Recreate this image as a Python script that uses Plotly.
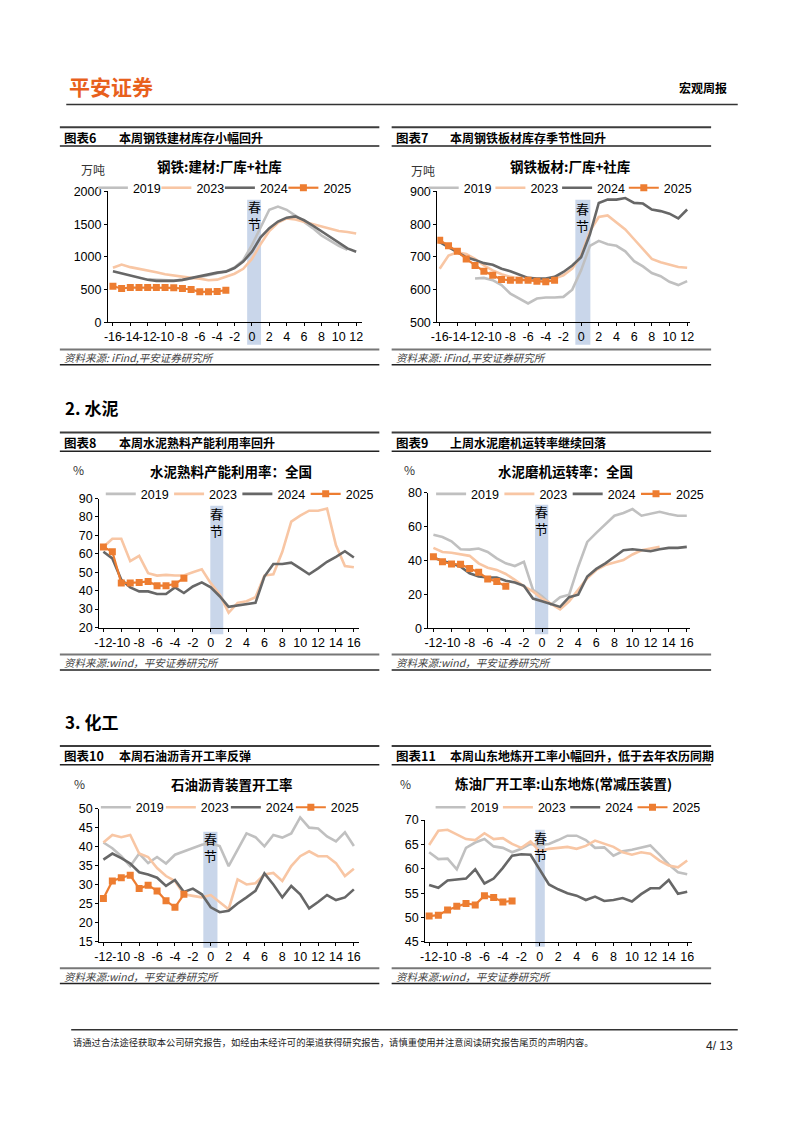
import plotly.graph_objects as go

# page (reference) pixel space is 802 x 1133; the figure sits inside the browser's 8px body margin
PAGE_W, PAGE_H = 802, 1133
OFF = 8
W, H = PAGE_W - 2 * OFF, PAGE_H - 2 * OFF

# ---------------- data ----------------
years = ["2019", "2023", "2024", "2025"]

# 图表6 钢铁:建材:厂库+社库 (万吨)
A_wk19 = list(range(-12, 12))
A_2019 = [660, 650, 640, 640, 650, 670, 700, 720, 750, 780, 840, 950, 1180, 1450, 1720, 1770,
          1720, 1630, 1540, 1440, 1330, 1250, 1170, 1110]
A_wk = list(range(-16, 13))
A_2023 = [834, 884, 844, 820, 794, 765, 734, 713, 693, 680, 668, 643, 653, 693, 744, 819, 970,
          1196, 1397, 1523, 1588, 1573, 1538, 1508, 1472, 1437, 1397, 1382, 1357]
A_2024 = [780, 750, 710, 680, 650, 635, 630, 635, 650, 680, 705, 730, 760, 775, 830, 930, 1080,
          1300, 1440, 1540, 1600, 1620, 1560, 1480, 1390, 1300, 1210, 1130, 1080]
A_wk25 = list(range(-16, -2))
A_2025 = [553, 518, 533, 533, 533, 533, 533, 528, 518, 503, 467, 467, 472, 492]

# 图表7 钢铁板材:厂库+社库 (万吨)
B_wk19 = list(range(-12, 13))
B_2019 = [634, 636, 629, 614, 588, 573, 558, 573, 576, 576, 578, 600, 659, 734, 749, 739, 734,
          717, 687, 671, 651, 641, 624, 614, 626]
B_wk = list(range(-16, 13))
B_2023 = [664, 704, 714, 709, 694, 674, 659, 647, 639, 634, 629, 627, 629, 634, 644, 664, 704,
          779, 822, 827, 805, 784, 754, 724, 694, 684, 677, 669, 667]
B_2024 = [745, 730, 714, 699, 691, 681, 676, 664, 656, 646, 636, 634, 634, 639, 654, 674, 699,
          769, 865, 875, 875, 880, 865, 863, 845, 840, 832, 818, 845]
B_wk25 = list(range(-16, -2))
B_2025 = [751, 734, 717, 694, 674, 656, 644, 631, 629, 629, 629, 626, 624, 629]

# 图表8 水泥熟料产能利用率:全国 (%)
C_wk19 = [0]
C_2019 = [None]
C_wk = list(range(-12, 17))
C_2023 = [63.75, 68.2, 68.2, 56, 58.9, 49.5, 48.2, 48.6, 48.2, 48.2, 50, 51.6, 44.1, 37.9, 28,
          33.4, 34.3, 36.4, 48.2, 48.9, 61.1, 77.5, 80.7, 83.4, 83.4, 84.6, 64.6, 53.4, 52.7]
C_2024 = [61.1, 57.5, 45.9, 41.8, 39.6, 39.6, 38.2, 38.2, 41.8, 38.75, 42.3, 44.5, 41.8, 37,
          31.25, 32.1, 32.9, 33.4, 47.7, 54.5, 54.5, 55.2, 52.1, 48.9, 52.1, 55.7, 58.4, 61.4, 58]
C_wk25 = list(range(-12, -2))
C_2025 = [63.75, 61.1, 44.1, 44.1, 44.5, 45, 42.7, 42.7, 43.6, 46.8]

# 图表9 水泥磨机运转率:全国 (%)
D_wk = list(range(-12, 17))
D_2019 = [55.1, 53.8, 51.3, 46.6, 46.4, 47, 45, 41.2, 38.3, 36.7, 39.2, 22.7, 18.8, 14, 18.3,
          19.8, 36.3, 50.9, 56.3, 61.6, 66.4, 68, 70.3, 66.4, 67.4, 68.7, 67.4, 66.4, 66.4]
D_wk23 = list(range(-12, 14))
D_2023 = [47.4, 45, 44.5, 43.7, 42.7, 38.3, 35.7, 34.4, 32, 28.5, 24.7, 21.7, 17.5, 14.4, 11.1,
          15.9, 22.7, 29.5, 34.4, 37.3, 38.8, 40.2, 43.5, 46, 47, 48]
D_2024 = [41.7, 39.6, 38.3, 36.3, 32.4, 30.5, 29.9, 29.9, 28, 27, 25, 17.5, 15.9, 14.4, 12.6,
          18.3, 19.8, 30.5, 35, 38.3, 42.1, 46, 46.6, 46, 45.4, 46.6, 47.4, 47.4, 48]
D_wk25 = list(range(-12, -3))
D_2025 = [42.1, 39.2, 37.9, 37.7, 35.3, 33, 29.1, 27.6, 24.7]

# 图表10 石油沥青装置开工率 (%)
E_wk = list(range(-12, 17))
E_2019 = [41.1, 39.6, 37.5, 34.9, 38.2, 35.7, 37.3, 35.6, 37.9, 38.8, 39.6, 40.5, 40.9, 40.2,
          34.9, 39.4, 43.5, 42.5, 40.1, 43.1, 42.4, 43.5, 47.7, 45, 44.8, 42.7, 41.4, 43.8, 40.2]
E_2023 = [41.1, 43.1, 42.5, 43.1, 38.2, 37.3, 34.4, 32.3, 31, 27.5, 27.1, 26.7, 27.3, 25.4,
          23.6, 31.4, 30.1, 30.4, 32.7, 33.1, 31, 34.9, 37.5, 38.8, 37.5, 37.5, 35.7, 32.3, 34.2]
E_2024 = [36.6, 38.2, 37, 35.6, 33.3, 32.7, 31.85, 29.7, 31.25, 28.1, 29, 27.5, 24.1, 22.8,
          23.2, 25.1, 26.7, 28.4, 33, 30.1, 26.7, 29.7, 27.5, 23.8, 25.5, 27.3, 26, 26.7, 28.8]
E_wk25 = list(range(-12, -2))
E_2025 = [26.4, 31, 31.85, 32.5, 29, 29.9, 28.4, 25.8, 24.1, 27.5]

# 图表11 炼油厂开工率:山东地炼(常减压装置) (%)
F_wk = list(range(-12, 17))
F_2019 = [63.4, 62, 62.1, 59.9, 64.3, 65.4, 66.1, 64.6, 64.3, 63.4, 64.1, 65.1, 64.9, 65.1,
          65.9, 66.8, 66.8, 65.9, 64.3, 64.4, 62.7, 63.6, 63.9, 64.4, 64.8, 62.9, 60.9, 59.3, 58.9]
F_2023 = [64.9, 67.8, 68, 67.1, 66.1, 65.9, 67.3, 66.1, 66.3, 65.1, 64.3, 65.6, 63.6, 64.1,
          64.3, 64.5, 64.1, 64.7, 65.8, 65.1, 64.5, 63.4, 62.9, 63.4, 63.1, 61.7, 60.7, 60.3, 61.7]
F_2024 = [56.7, 56.1, 57.6, 57.8, 58, 59.9, 57, 58, 60.2, 62.7, 63, 62.9, 59.9, 56.8, 55.8, 55,
          54.5, 53.6, 54.3, 53.4, 53.6, 54, 53.3, 54.8, 56, 56, 57.7, 54.9, 55.3]
F_wk25 = list(range(-12, -2))
F_2025 = [50.3, 50.5, 51.55, 52.3, 52.9, 52.6, 54.5, 54.1, 53.2, 53.4]

# tick labels
xticks_steel = list(range(-16, 13, 2))
xticks_other = list(range(-12, 17, 2))

titles = ["钢铁:建材:厂库+社库", "钢铁板材:厂库+社库", "水泥熟料产能利用率：全国",
          "水泥磨机运转率：全国", "石油沥青装置开工率", "炼油厂开工率:山东地炼(常减压装置)"]
units = ["万吨", "万吨", "%", "%", "%", "%"]
fig_nums = ["图表6", "图表7", "图表8", "图表9", "图表10", "图表11"]
fig_caps = ["本周钢铁建材库存小幅回升", "本周钢铁板材库存季节性回升",
            "本周水泥熟料产能利用率回升", "上周水泥磨机运转率继续回落",
            "本周石油沥青开工率反弹", "本周山东地炼开工率小幅回升，低于去年农历同期"]
sources = ["资料来源: iFind,平安证券研究所", "资料来源: iFind,平安证券研究所",
           "资料来源:wind，平安证券研究所", "资料来源:wind，平安证券研究所",
           "资料来源:wind，平安证券研究所", "资料来源:wind，平安证券研究所"]
sections = ["2. 水泥", "3. 化工"]
footer_text = "请通过合法途径获取本公司研究报告，如经由未经许可的渠道获得研究报告，请慎重使用并注意阅读研究报告尾页的声明内容。"

series = [
    [(A_wk19, A_2019), (A_wk, A_2023), (A_wk, A_2024), (A_wk25, A_2025)],
    [(B_wk19, B_2019), (B_wk, B_2023), (B_wk, B_2024), (B_wk25, B_2025)],
    [(C_wk19, C_2019), (C_wk, C_2023), (C_wk, C_2024), (C_wk25, C_2025)],
    [(D_wk, D_2019), (D_wk23, D_2023), (D_wk, D_2024), (D_wk25, D_2025)],
    [(E_wk, E_2019), (E_wk, E_2023), (E_wk, E_2024), (E_wk25, E_2025)],
    [(F_wk, F_2019), (F_wk, F_2023), (F_wk, F_2024), (F_wk25, F_2025)],
]
xticks = [xticks_steel, xticks_steel, xticks_other, xticks_other, xticks_other, xticks_other]


# ---------------- layout config (page pixel geometry) ----------------
def px(x):
    return (x - OFF) / W


def py(y):
    return 1 - (y - OFF) / H


CJK = "Noto Sans CJK SC"
NUM = "Liberation Sans, Arial"

geo = [
    dict(x0=102.3, x1=360.0, yt=186.7, yb=319.3, xr=[-16.57, 12.68], yr=[0, 2000], dt=500,
         band=(-0.55, 1.05, 195, 342), chun=210.3, title=(215, 161), unit=(87, 164),
         leg=(87, 183.3, 63.5)),
    dict(x0=436.3, x1=693.0, yt=186.7, yb=319.3, xr=[-16.27, 12.37], yr=[500, 900], dt=100,
         band=(-0.65, 1.05, 195, 342), chun=212.3, title=(570.5, 161), unit=(421.5, 165),
         leg=(422.5, 183.3, 66.7)),
    dict(x0=93.3, x1=357.3, yt=497.7, yb=628.3, xr=[-12.48, 16.62], yr=[20, 90], dt=10,
         band=(-0.05, 1.4, 505, 635), chun=521.2, title=(227, 470), unit=(72, 468),
         leg=(95, 493.3, 68.3)),
    dict(x0=427.3, x1=693.0, yt=491.7, yb=629.0, xr=[-12.55, 16.4], yr=[0, 80], dt=20,
         band=(-0.77, 0.69, 504, 635), chun=519.7, title=(566, 470), unit=(408, 468),
         leg=(430, 493.3, 68.3)),
    dict(x0=93.3, x1=357.3, yt=811.7, yb=946.7, xr=[-12.48, 16.62], yr=[15, 50], dt=5,
         band=(-0.83, 0.75, 835, 952.7), chun=850.5, title=(228, 787), unit=(73, 786),
         leg=(90, 810.7, 65)),
    dict(x0=424.0, x1=694.7, yt=823.3, yb=946.7, xr=[-12.43, 16.53], yr=[45, 70], dt=5,
         band=(-0.48, 0.55, 833, 951.7), chun=849.2, title=(564, 786), unit=(404, 786),
         leg=(429.5, 810.7, 67.3)),
]

styles = [
    dict(color="#C0C0C0", width=2.6, mode="lines"),
    dict(color="#F8C6A4", width=2.6, mode="lines"),
    dict(color="#676767", width=2.6, mode="lines"),
    dict(color="#ED7D31", width=2.2, mode="lines+markers"),
]

fig = go.Figure()
layout = dict()
shapes = []
annotations = []

for i, g in enumerate(geo):
    sfx = "" if i == 0 else str(i + 1)
    leg_name = "legend" + sfx
    for j, (xs, ys) in enumerate(series[i]):
        st = styles[j]
        tr = dict(x=xs, y=ys, name=years[j], mode=st["mode"],
                  line=dict(color=st["color"], width=st["width"]),
                  xaxis="x" + sfx, yaxis="y" + sfx, legend=leg_name,
                  hoverinfo="skip", connectgaps=False)
        if st["mode"] == "lines+markers":
            tr["marker"] = dict(symbol="square", size=7, color=st["color"])
            tr["legendwidth"] = 40
        fig.add_trace(go.Scatter(**tr))

    layout["xaxis" + sfx] = dict(
        domain=[px(g["x0"]), px(g["x1"])], anchor="y" + sfx, range=g["xr"],
        tickmode="array", tickvals=xticks[i], ticktext=[str(v) for v in xticks[i]],
        tickangle=0,
        showline=True, linecolor="black", linewidth=1, ticks="outside", ticklen=3,
        tickcolor="black", showgrid=False, zeroline=False,
        tickfont=dict(family=NUM, size=12.5, color="black"))
    layout["yaxis" + sfx] = dict(
        domain=[py(g["yb"]), py(g["yt"])], anchor="x" + sfx, range=g["yr"],
        tickmode="linear", tick0=g["yr"][0], dtick=g["dt"],
        showline=True, linecolor="black", linewidth=1, ticks="outside", ticklen=3,
        tickcolor="black", showgrid=False, zeroline=False,
        tickfont=dict(family=NUM, size=12.5, color="black"))

    lx, ly, sp = g["leg"]
    layout[leg_name] = dict(
        orientation="h", x=px(lx), xanchor="left", y=py(ly), yanchor="middle",
        entrywidth=sp - 45, entrywidthmode="pixels", bgcolor="rgba(0,0,0,0)",
        font=dict(family=NUM, size=12.5, color="black"), traceorder="normal",
        itemclick=False, itemdoubleclick=False)

    bx0, bx1, byt, byb = g["band"]
    shapes.append(dict(type="rect", xref="x" + sfx, yref="paper", x0=bx0, x1=bx1,
                       y0=py(byb), y1=py(byt), fillcolor="#C9D6EA", line=dict(width=0),
                       layer="below"))
    cx = (bx0 + bx1) / 2
    annotations.append(dict(xref="x" + sfx, yref="paper", x=cx, y=py(g["chun"]),
                            text="春<br>节", showarrow=False, xanchor="center",
                            yanchor="middle",
                            font=dict(family=CJK, size=13, color="black")))
    annotations.append(dict(xref="paper", yref="paper", x=px(g["title"][0]), y=py(g["title"][1]),
                            text=titles[i], showarrow=False, xanchor="center", yanchor="middle",
                            font=dict(family=CJK, size=13.5, color="black", weight="bold")))
    annotations.append(dict(xref="paper", yref="paper", x=px(g["unit"][0]), y=py(g["unit"][1]),
                            text=units[i], showarrow=False, xanchor="center", yanchor="middle",
                            font=dict(family=CJK, size=12, color="#333333")))

# ---------------- page furniture ----------------
row_tops = [121.7, 430.7, 748.3]
col_x = [(53.5, 377.5), (390, 714)]
k = 0
for r, top in enumerate(row_tops):
    for c, (cx0, cx1) in enumerate(col_x):
        line_specs = [(top, "#3c3c3c", 2), (top + 19, "#222222", 1.5),
                      (top + 225, "#777777", 2), (top + 240.6, "#222222", 1.5)]
        for yy, colr, wd in line_specs:
            shapes.append(dict(type="line", xref="paper", yref="paper", x0=px(cx0), x1=px(cx1),
                               y0=py(yy), y1=py(yy), line=dict(color=colr, width=wd)))
        annotations.append(dict(xref="paper", yref="paper", x=px(cx0 + 2), y=py(top + 10),
                                text=fig_nums[k], showarrow=False, xanchor="left",
                                yanchor="middle",
                                font=dict(family=CJK, size=12.5, color="black", weight="bold")))
        annotations.append(dict(xref="paper", yref="paper", x=px(cx0 + 57.5), y=py(top + 10),
                                text=fig_caps[k], showarrow=False, xanchor="left",
                                yanchor="middle",
                                font=dict(family=CJK, size=12, color="black", weight="bold")))
        annotations.append(dict(xref="paper", yref="paper", x=px(cx0 + 2), y=py(top + 233.5),
                                text=sources[k], showarrow=False, xanchor="left",
                                yanchor="middle",
                                font=dict(family=CJK, size=10.5, color="#444444",
                                          style="italic")))
        k += 1

for s, yy in zip(sections, [405, 723.3]):
    annotations.append(dict(xref="paper", yref="paper", x=px(57), y=py(yy), text=s,
                            showarrow=False, xanchor="left", yanchor="middle",
                            font=dict(family=CJK, size=17, color="black", weight="bold")))

# header
annotations.append(dict(xref="paper", yref="paper", x=px(61), y=py(80), text="平安证券",
                        showarrow=False, xanchor="left", yanchor="middle",
                        font=dict(family=CJK, size=21, color="#E8601C", weight="bold")))
annotations.append(dict(xref="paper", yref="paper", x=px(732), y=py(81), text="宏观周报",
                        showarrow=False, xanchor="right", yanchor="middle",
                        font=dict(family=CJK, size=12, color="black", weight="bold")))
shapes.append(dict(type="line", xref="paper", yref="paper", x0=px(60), x1=px(741),
                   y0=py(98.7), y1=py(98.7), line=dict(color="#333333", width=1.5)))
# footer
shapes.append(dict(type="line", xref="paper", yref="paper", x0=px(65), x1=px(741),
                   y0=py(1035.7), y1=py(1035.7), line=dict(color="#333333", width=1.5)))
annotations.append(dict(xref="paper", yref="paper", x=px(65), y=py(1047.7), text=footer_text,
                        showarrow=False, xanchor="left", yanchor="middle",
                        font=dict(family=CJK, size=9.3, color="#222222")))
annotations.append(dict(xref="paper", yref="paper", x=px(738), y=py(1052), text="4/ 13",
                        showarrow=False, xanchor="right", yanchor="middle",
                        font=dict(family=NUM, size=12, color="#222222")))

fig.update_layout(width=W, height=H, margin=dict(l=0, r=0, t=0, b=0),
                  paper_bgcolor="white", plot_bgcolor="white", showlegend=True,
                  shapes=shapes, annotations=annotations, **layout)

fig.write_html("out.html", config={"displayModeBar": False})
